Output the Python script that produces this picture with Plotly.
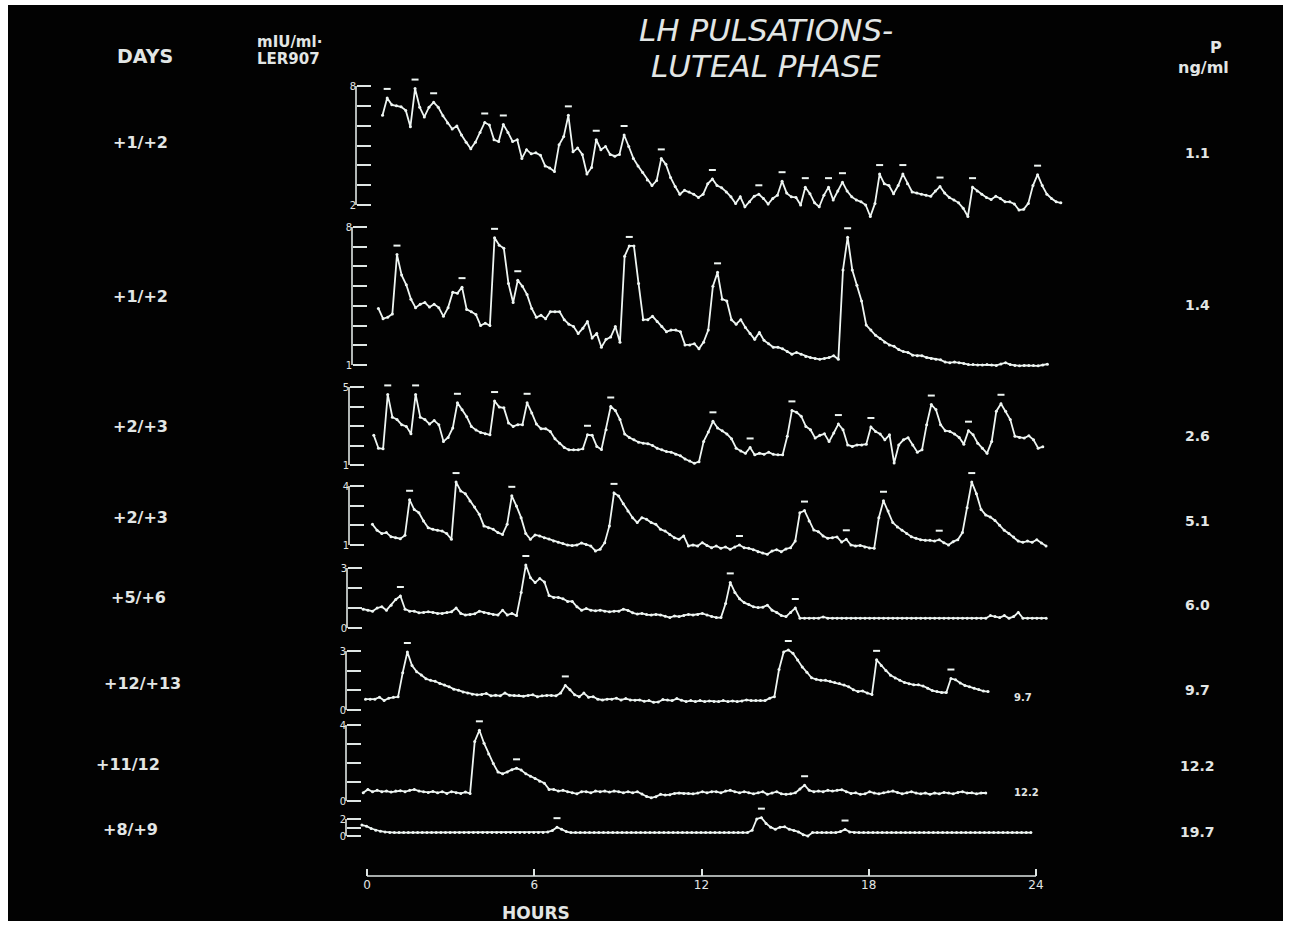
import plotly.graph_objects as go

# ---------------- data ----------------
hour_ticks = [0, 6, 12, 18, 24]
hour_labels = ["0", "6", "12", "18", "24"]
sample_step_h = 1 / 6  # 10-minute sampling

days_labels = ["+1/+2", "+1/+2", "+2/+3", "+2/+3", "+5/+6", "+12/+13", "+11/12", "+8/+9"]
progesterone = ["1.1", "1.4", "2.6", "5.1", "6.0", "9.7", "12.2", "19.7"]
axis_low = [2, 1, 1, 1, 0, 0, 0, 0]
axis_high = [8, 8, 5, 4, 3, 3, 4, 2]
axis_low_text = ["2", "1", "1", "1", "0", "0", "0", "0"]
start_hours = [0.557, 0.409, 0.244, 0.195, -0.135, -0.052, -0.135, -0.184]

lh1 = [6.52, 7.4, 7.05, 7.0, 6.95, 6.77, 5.95, 7.87, 6.93, 6.44,
       6.93, 7.18, 6.93, 6.5, 6.14, 5.83, 5.98, 5.53, 5.17, 4.84,
       5.17, 5.66, 6.16, 6.03, 5.29, 5.2, 6.06, 5.66, 5.2, 5.29,
       4.35, 4.79, 4.58, 4.63, 4.51, 3.97, 3.86, 3.69, 5.04, 5.45,
       6.52, 4.68, 4.87, 4.55, 3.56, 3.89, 5.29, 4.79, 4.95, 4.55,
       4.46, 4.55, 5.53, 4.95, 4.35, 3.97, 3.64, 3.26, 2.98, 3.23,
       4.35, 4.05, 3.39, 2.93, 2.54, 2.74, 2.66, 2.54, 2.38, 2.54,
       3.07, 3.31, 2.98, 2.87, 2.66, 2.41, 2.08, 2.41, 1.91, 2.16,
       2.44, 2.54, 2.33, 2.05, 2.33, 2.49, 3.2, 2.6, 2.41, 2.38,
       2.0, 2.9, 2.57, 2.11, 1.91, 2.49, 2.9, 2.25, 2.7, 3.15,
       2.7, 2.41, 2.25, 2.16, 2.0, 1.42, 2.08, 3.56, 3.07, 2.98,
       2.57, 2.98, 3.56, 3.07, 2.66, 2.6, 2.54, 2.49, 2.44, 2.7,
       2.93, 2.6, 2.38, 2.25, 2.11, 1.83, 1.42, 2.9, 2.7, 2.54,
       2.38, 2.28, 2.44, 2.33, 2.16, 2.16, 2.05, 1.75, 1.78, 2.08,
       2.98, 3.53, 2.98, 2.54, 2.33, 2.16, 2.11]
peaks1 = [1, 7, 11, 22, 26, 40, 46, 52, 60, 71, 81, 86, 91, 96, 99, 107, 112, 120, 127, 141]

lh2 = [3.87, 3.35, 3.42, 3.59, 6.6, 5.56, 5.07, 4.34, 3.91, 4.08,
       4.17, 3.94, 4.08, 3.91, 3.47, 3.91, 4.69, 4.64, 4.95, 3.82,
       3.7, 3.56, 3.0, 3.12, 3.0, 7.45, 7.08, 6.92, 5.13, 4.17,
       5.3, 4.99, 4.57, 3.87, 3.42, 3.52, 3.35, 3.7, 3.7, 3.7,
       3.3, 3.07, 2.95, 2.6, 2.86, 3.21, 2.37, 2.6, 1.9, 2.3,
       2.42, 2.95, 2.16, 6.52, 7.04, 7.04, 5.13, 3.3, 3.3, 3.47,
       3.21, 2.95, 2.69, 2.77, 2.77, 2.69, 2.02, 2.02, 2.08, 1.82,
       2.16, 2.77, 5.0, 5.7, 4.34, 4.25, 3.3, 3.07, 3.3, 2.9,
       2.6, 2.3, 2.65, 2.25, 2.08, 1.9, 1.9, 1.82, 1.68, 1.55,
       1.64, 1.55, 1.43, 1.38, 1.33, 1.29, 1.33, 1.38, 1.47, 1.29,
       5.82, 7.48, 5.82, 5.04, 4.25, 3.03, 2.77, 2.51, 2.34, 2.16,
       2.02, 1.95, 1.78, 1.68, 1.64, 1.5, 1.47, 1.47, 1.38, 1.33,
       1.29, 1.26, 1.15, 1.12, 1.15, 1.12, 1.08, 1.02, 1.02, 1.0,
       1.0, 1.02, 1.0, 0.98, 1.05, 1.12, 1.02, 0.98, 0.96, 0.98,
       0.98, 0.97, 0.96, 1.0, 1.04]
peaks2 = [4, 18, 25, 30, 54, 73, 101]

lh3 = [2.52, 1.86, 1.83, 4.62, 3.45, 3.33, 3.07, 2.98, 2.6, 4.62,
       3.45, 3.33, 3.1, 3.28, 3.07, 2.21, 2.41, 2.9, 4.19, 3.83,
       3.48, 2.98, 2.79, 2.67, 2.6, 2.55, 4.28, 3.97, 3.93, 3.16,
       2.98, 3.07, 3.07, 4.19, 3.67, 3.1, 2.86, 2.86, 2.72, 2.34,
       2.12, 1.9, 1.78, 1.78, 1.78, 1.83, 2.55, 2.52, 1.95, 1.79,
       2.81, 4.0, 3.79, 3.33, 2.59, 2.41, 2.29, 2.17, 2.12, 2.09,
       2.0, 1.86, 1.78, 1.69, 1.66, 1.55, 1.47, 1.31, 1.21, 1.09,
       1.17, 2.21, 2.69, 3.24, 2.9, 2.76, 2.59, 2.34, 1.86, 1.72,
       1.6, 1.9, 1.52, 1.6, 1.55, 1.66, 1.55, 1.52, 1.52, 2.47,
       3.8, 3.7, 3.5, 2.98, 2.81, 2.38, 2.52, 2.6, 2.2, 2.64,
       3.1, 2.81, 2.03, 1.95, 2.03, 2.03, 2.07, 2.95, 2.72, 2.59,
       2.29, 2.55, 1.1, 2.03, 2.29, 2.4, 2.03, 1.66, 1.78, 3.07,
       4.1, 3.84, 3.07, 2.76, 2.72, 2.59, 2.41, 2.07, 2.76, 2.55,
       2.12, 1.86, 1.6, 2.21, 3.76, 4.14, 3.76, 3.33, 2.47, 2.41,
       2.38, 2.5, 2.29, 1.86, 1.93]
peaks3 = [3, 9, 18, 26, 33, 46, 51, 73, 81, 90, 100, 107, 120, 128, 135]

lh4 = [2.05, 1.75, 1.58, 1.63, 1.42, 1.37, 1.32, 1.49, 3.3, 2.8,
       2.64, 2.22, 1.88, 1.8, 1.75, 1.71, 1.58, 1.29, 4.2, 3.75,
       3.61, 3.24, 2.93, 2.56, 1.97, 1.88, 1.8, 1.63, 1.54, 2.05,
       3.5, 2.98, 2.39, 1.58, 1.29, 1.51, 1.46, 1.37, 1.3, 1.2,
       1.14, 1.07, 1.0, 0.97, 1.0, 1.1, 1.03, 0.95, 0.7, 0.78,
       1.12, 1.97, 3.65, 3.49, 3.1, 2.73, 2.39, 2.14, 2.39, 2.31,
       2.14, 2.05, 1.8, 1.71, 1.54, 1.37, 1.29, 1.46, 0.95, 1.0,
       0.95, 1.12, 0.98, 0.86, 0.95, 0.83, 0.9, 0.78, 0.9, 1.0,
       0.86, 0.83, 0.76, 0.66, 0.59, 0.53, 0.69, 0.76, 0.66, 0.8,
       0.86, 1.2, 2.64, 2.75, 2.22, 1.76, 1.68, 1.46, 1.34, 1.37,
       1.41, 1.15, 1.29, 1.0, 0.95, 0.98, 0.9, 0.85, 0.83, 2.39,
       3.25, 2.73, 2.14, 1.92, 1.75, 1.58, 1.42, 1.34, 1.27, 1.24,
       1.24, 1.2, 1.27, 1.12, 1.0, 1.17, 1.27, 1.63, 2.9, 4.2,
       3.61, 2.81, 2.53, 2.42, 2.25, 2.0, 1.75, 1.58, 1.41, 1.2,
       1.14, 1.2, 1.14, 1.27, 1.1, 0.95]
peaks4 = [8, 18, 30, 52, 79, 93, 102, 110, 122, 129]

lh5 = [0.94, 0.89, 0.84, 1.0, 1.06, 0.89, 1.14, 1.43, 1.6, 0.94,
       0.84, 0.84, 0.76, 0.78, 0.81, 0.78, 0.73, 0.73, 0.78, 0.81,
       1.0, 0.73, 0.65, 0.68, 0.71, 0.84, 0.78, 0.73, 0.68, 0.65,
       0.89, 0.65, 0.73, 0.62, 1.78, 3.15, 2.51, 2.27, 2.47, 2.3,
       1.62, 1.53, 1.53, 1.46, 1.33, 1.33, 1.06, 0.89, 0.97, 0.89,
       0.86, 0.89, 0.84, 0.81, 0.84, 0.84, 0.94, 0.88, 0.76, 0.7,
       0.73, 0.67, 0.65, 0.68, 0.65, 0.59, 0.52, 0.6, 0.57, 0.63,
       0.68, 0.65, 0.68, 0.73, 0.65, 0.57, 0.52, 0.52, 1.22, 2.28,
       1.78, 1.46, 1.27, 1.17, 1.06, 1.02, 1.04, 1.14, 0.89, 0.78,
       0.62, 0.57, 0.78, 1.0, 0.49, 0.49, 0.49, 0.49, 0.49, 0.55,
       0.49, 0.49, 0.49, 0.49, 0.49, 0.49, 0.49, 0.49, 0.49, 0.49,
       0.49, 0.49, 0.49, 0.49, 0.49, 0.49, 0.49, 0.49, 0.49, 0.49,
       0.49, 0.49, 0.49, 0.49, 0.49, 0.49, 0.49, 0.49, 0.49, 0.49,
       0.49, 0.49, 0.49, 0.49, 0.49, 0.62, 0.57, 0.52, 0.62, 0.49,
       0.57, 0.78, 0.49, 0.49, 0.49, 0.49, 0.49, 0.49]
peaks5 = [8, 35, 79, 93]

lh6 = [0.55, 0.55, 0.55, 0.65, 0.48, 0.6, 0.65, 0.67, 1.9, 2.95,
       2.26, 1.95, 1.78, 1.59, 1.51, 1.46, 1.35, 1.27, 1.18, 1.06,
       1.01, 0.92, 0.87, 0.8, 0.77, 0.79, 0.84, 0.72, 0.75, 0.72,
       0.86, 0.75, 0.74, 0.74, 0.7, 0.74, 0.77, 0.68, 0.72, 0.74,
       0.74, 0.72, 0.86, 1.25, 1.03, 0.77, 0.68, 0.86, 0.65, 0.68,
       0.55, 0.51, 0.55, 0.55, 0.6, 0.51, 0.58, 0.51, 0.5, 0.51,
       0.44, 0.48, 0.39, 0.41, 0.53, 0.51, 0.48, 0.58, 0.5, 0.43,
       0.48, 0.43, 0.48, 0.43, 0.46, 0.43, 0.43, 0.48, 0.43, 0.46,
       0.43, 0.46, 0.51, 0.48, 0.48, 0.48, 0.48, 0.6, 0.68, 2.06,
       2.95, 3.05, 2.88, 2.54, 2.19, 1.92, 1.64, 1.56, 1.51, 1.51,
       1.46, 1.4, 1.35, 1.27, 1.18, 1.03, 0.94, 0.97, 0.86, 0.79,
       2.55, 2.26, 2.01, 1.77, 1.63, 1.51, 1.4, 1.34, 1.28, 1.28,
       1.22, 1.11, 0.99, 0.94, 0.89, 0.89, 1.6, 1.54, 1.37, 1.25,
       1.18, 1.11, 1.04, 0.96, 0.94]
peaks6 = [9, 43, 91, 110, 126]

lh7 = [0.43, 0.61, 0.49, 0.56, 0.49, 0.52, 0.47, 0.52, 0.54, 0.49,
       0.56, 0.61, 0.52, 0.49, 0.45, 0.5, 0.43, 0.49, 0.4, 0.49,
       0.43, 0.4, 0.47, 0.4, 3.13, 3.72, 3.04, 2.47, 1.97, 1.53,
       1.43, 1.53, 1.65, 1.72, 1.63, 1.43, 1.3, 1.18, 1.04, 0.94,
       0.61, 0.61, 0.52, 0.56, 0.49, 0.43, 0.38, 0.49, 0.49, 0.43,
       0.52, 0.49, 0.52, 0.47, 0.52, 0.49, 0.43, 0.49, 0.43, 0.49,
       0.37, 0.24, 0.17, 0.23, 0.35, 0.31, 0.33, 0.4, 0.42, 0.4,
       0.4, 0.38, 0.42, 0.49, 0.43, 0.49, 0.49, 0.43, 0.52, 0.56,
       0.49, 0.43, 0.49, 0.43, 0.38, 0.43, 0.49, 0.35, 0.42, 0.49,
       0.38, 0.35, 0.38, 0.43, 0.63, 0.83, 0.56, 0.49, 0.52, 0.49,
       0.56, 0.52, 0.56, 0.59, 0.49, 0.4, 0.43, 0.35, 0.38, 0.49,
       0.42, 0.38, 0.43, 0.49, 0.52, 0.45, 0.38, 0.43, 0.49, 0.42,
       0.38, 0.42, 0.35, 0.42, 0.38, 0.45, 0.42, 0.38, 0.45, 0.49,
       0.42, 0.43, 0.38, 0.42, 0.42]
peaks7 = [25, 33, 95]

lh8 = [1.28, 1.16, 0.88, 0.68, 0.56, 0.48, 0.4, 0.4, 0.4, 0.4,
       0.4, 0.4, 0.4, 0.4, 0.4, 0.4, 0.4, 0.4, 0.4, 0.4,
       0.4, 0.4, 0.4, 0.4, 0.4, 0.4, 0.4, 0.4, 0.4, 0.4,
       0.4, 0.4, 0.4, 0.4, 0.4, 0.4, 0.4, 0.4, 0.4, 0.4,
       0.48, 0.64, 1.04, 0.8, 0.52, 0.4, 0.4, 0.4, 0.4, 0.4,
       0.4, 0.4, 0.4, 0.4, 0.4, 0.4, 0.4, 0.4, 0.4, 0.4,
       0.4, 0.4, 0.4, 0.4, 0.4, 0.4, 0.4, 0.4, 0.4, 0.4,
       0.4, 0.4, 0.4, 0.4, 0.4, 0.4, 0.4, 0.4, 0.4, 0.4,
       0.4, 0.4, 0.4, 0.4, 0.68, 2.0, 2.16, 1.48, 1.04, 0.8,
       1.04, 1.08, 0.8, 0.64, 0.48, 0.16, 0.0, 0.4, 0.4, 0.4,
       0.4, 0.4, 0.4, 0.52, 0.76, 0.48, 0.4, 0.4, 0.4, 0.4,
       0.4, 0.4, 0.4, 0.4, 0.4, 0.4, 0.4, 0.4, 0.4, 0.4,
       0.4, 0.4, 0.4, 0.4, 0.4, 0.4, 0.4, 0.4, 0.4, 0.4,
       0.4, 0.4, 0.4, 0.4, 0.4, 0.4, 0.4, 0.4, 0.4, 0.4,
       0.4, 0.4, 0.4, 0.4, 0.4]
peaks8 = [42, 86, 104]

series = [lh1, lh2, lh3, lh4, lh5, lh6, lh7, lh8]
peaks = [peaks1, peaks2, peaks3, peaks4, peaks5, peaks6, peaks7, peaks8]

# ---------------- layout geometry (pixels) ----------------
FIG_W, FIG_H = 1291, 929
ML, MR, MT, MB = 8, 8, 5, 8
PW = FIG_W - ML - MR
PH = FIG_H - MT - MB


def fx(px):
    return (px - ML) / PW


def fy(py):
    return (FIG_H - MB - py) / PH


X0_PX, X24_PX = 367, 1036
ppx = (X24_PX - X0_PX) / 24.0
x_range = [(ML - X0_PX) / ppx, (FIG_W - MR - X0_PX) / ppx]
AXIS_Y_PX = 876

bracket_top_px = [86, 227, 387, 486, 568, 651, 725, 819]
bracket_bot_px = [205, 365, 465, 545, 628, 710, 801, 836]
bracket_x_px = [356, 352, 349, 349, 347, 346, 346, 346]

TRACE = "#eef5f2"
AXIS = "#dfe6e4"
TEXT = "#e2e6e5"
FONT = "DejaVu Sans, sans-serif"

fig = go.Figure()
layout = {}
shapes = [dict(type="rect", xref="paper", yref="paper", x0=0, x1=1, y0=0, y1=1,
               fillcolor="#020202", line=dict(width=0), layer="below")]

PAD = 18
for k in range(8):
    ax = "" if k == 0 else str(k + 1)
    yt, yb = bracket_top_px[k], bracket_bot_px[k]
    lo, hi = axis_low[k], axis_high[k]
    ppu = (yb - yt) / (hi - lo)
    pad_u = PAD / ppu
    vals = series[k]
    times = [start_hours[k] + i * sample_step_h for i in range(len(vals))]
    fig.add_trace(go.Scatter(
        x=times, y=vals, xaxis="x", yaxis="y" + ax, mode="lines+markers",
        line=dict(color=TRACE, width=1.8), marker=dict(size=3, color=TRACE),
        hoverinfo="skip", showlegend=False))
    lift = 9 / ppu
    fig.add_trace(go.Scatter(
        x=[times[i] for i in peaks[k]], y=[vals[i] + lift for i in peaks[k]],
        xaxis="x", yaxis="y" + ax, mode="markers",
        marker=dict(symbol="line-ew", size=5, color=TRACE, line=dict(color=TRACE, width=2)),
        hoverinfo="skip", showlegend=False))
    tv = list(range(lo, hi + 1))
    tt = [str(hi) if v == hi else (axis_low_text[k] if v == lo else "") for v in tv]
    layout["yaxis" + ax] = dict(
        domain=[fy(yb + PAD), fy(yt - PAD)], range=[lo - pad_u, hi + pad_u],
        anchor="free", position=fx(bracket_x_px[k]), side="left",
        ticks="inside", ticklen=14, tickwidth=1.6, tickcolor=AXIS,
        tickvals=tv, ticktext=tt, tickfont=dict(size=10, color=TEXT, family=FONT),
        showgrid=False, zeroline=False, showline=False, fixedrange=True)
    shapes.append(dict(type="line", xref="paper", yref="y" + ax,
                       x0=fx(bracket_x_px[k]), x1=fx(bracket_x_px[k]), y0=lo, y1=hi,
                       line=dict(color=AXIS, width=1.6)))

layout["xaxis"] = dict(
    domain=[0, 1], range=x_range, anchor="free", position=fy(AXIS_Y_PX), side="bottom",
    ticks="inside", ticklen=7, tickwidth=1.5, tickcolor=AXIS,
    tickvals=hour_ticks, ticktext=hour_labels,
    tickfont=dict(size=12, color=TEXT, family=FONT),
    showgrid=False, zeroline=False, showline=False, fixedrange=True)
shapes.append(dict(type="line", xref="x", yref="paper", x0=hour_ticks[0], x1=hour_ticks[-1],
                   y0=fy(AXIS_Y_PX), y1=fy(AXIS_Y_PX), line=dict(color=AXIS, width=1.5)))

annotations = []


def ann(text, px, py, size, xanchor="center", bold=True, italic=False):
    t = text
    if bold:
        t = "<b>" + t + "</b>"
    if italic:
        t = "<i>" + t + "</i>"
    annotations.append(dict(text=t, x=fx(px), y=fy(py), xref="paper", yref="paper",
                            xanchor=xanchor, yanchor="middle", showarrow=False,
                            font=dict(size=size, color=TEXT, family=FONT)))


ann("DAYS", 145, 56, 19)
ann("mIU/ml·", 255, 42, 15, xanchor="left")
ann("LER907", 255, 59, 15, xanchor="left")
ann("LH PULSATIONS-", 766, 30, 31, bold=False, italic=True)
ann("LUTEAL PHASE", 766, 66, 31, bold=False, italic=True)
ann("P", 1216, 47, 16)
ann("ng/ml", 1203, 68, 16)
ann("HOURS", 536, 913, 17)

left_y = [142, 296, 426, 517, 598, 683, 765, 829]
left_x = [140, 140, 140, 140, 138, 142, 128, 130]
right_y = [153, 305, 436, 521, 605, 690, 766, 832]
for k in range(8):
    ann(days_labels[k], left_x[k], left_y[k], 16)
    ann(progesterone[k], 1197, right_y[k], 14)
ann(progesterone[5], 1023, 697, 10)
ann(progesterone[6], 1026, 792, 10)

fig.update_layout(
    width=FIG_W, height=FIG_H,
    margin=dict(l=ML, r=MR, t=MT, b=MB, autoexpand=False),
    paper_bgcolor="white", plot_bgcolor="rgba(0,0,0,0)",
    showlegend=False, shapes=shapes, annotations=annotations, **layout)

fig.write_html("out.html", config={"displayModeBar": False},
               post_script="document.body.style.margin='0px';")
